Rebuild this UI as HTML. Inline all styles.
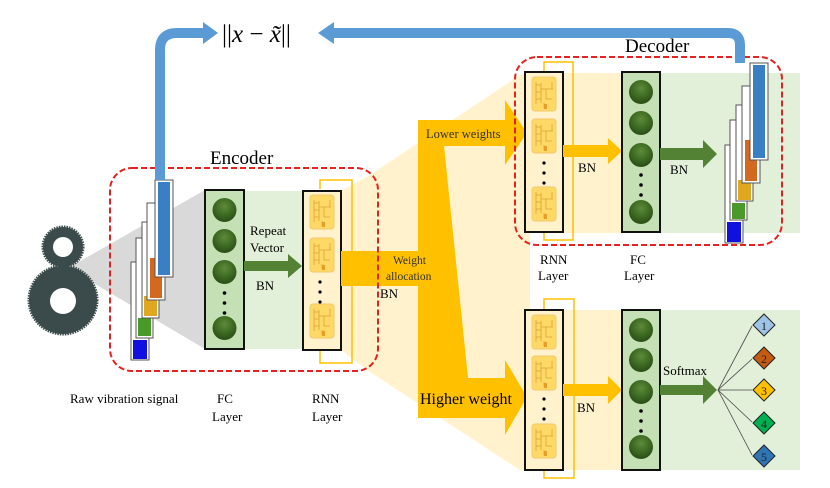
<!DOCTYPE html>
<html><head><meta charset="utf-8"><style>
html,body{margin:0;padding:0;background:#fff;}
svg{display:block;font-family:"Liberation Serif",serif;}
</style></head><body>
<svg width="830" height="488" viewBox="0 0 830 488" xmlns="http://www.w3.org/2000/svg">
<defs>
<g id="cell">
<rect x="0" y="0" width="24" height="34" rx="3" fill="#ffd966" stroke="#f4c76a" stroke-width="1"/>
<path d="M4 5v22M4 8h5M4 15h5M4 22h5M9 6v20M9 12h12M14 12v10h6M20 5v7M12 26v5" stroke="#d9a23a" stroke-width="0.8" fill="none"/>
<rect x="12" y="27" width="3" height="5" fill="#e69d2b"/>
</g>
<radialGradient id="ball" cx="50%" cy="35%" r="60%">
<stop offset="0" stop-color="#5f8a3a"/><stop offset="0.6" stop-color="#3d6b23"/><stop offset="1" stop-color="#2d5218"/>
</radialGradient>
</defs>

<polygon points="341,191 370,175 520,75 530,75 530,470 520,470 370,372 341,350" fill="#fff2cc"/>
<rect x="530" y="73" width="125" height="160" fill="#fff2cc"/>
<rect x="655" y="73" width="145" height="160" fill="#e2f0d9"/>
<rect x="525" y="310" width="130" height="160" fill="#fff2cc"/>
<rect x="655" y="310" width="145" height="160" fill="#e2f0d9"/>

<polygon points="68,268 205,190 205,349" fill="#d9d9d9"/>
<rect x="244" y="191" width="59" height="158" fill="#e2f0d9"/>

<circle cx="63" cy="247" r="20" fill="#3b4a4a" stroke="#3b4a4a" stroke-width="3" stroke-dasharray="1.5 1"/>
<circle cx="63" cy="247" r="10" fill="#fff"/>
<circle cx="63" cy="300" r="34" fill="#3b4a4a" stroke="#3b4a4a" stroke-width="3" stroke-dasharray="1.5 1"/>
<circle cx="63" cy="301" r="13" fill="#fff"/>

<g>
<rect x="131" y="262" width="18" height="98" fill="#fff" stroke="#555"/><rect x="133" y="340" width="14" height="19" fill="#1010e0"/>
<rect x="136" y="238" width="17" height="100" fill="#fff" stroke="#555"/><rect x="138" y="318" width="13" height="18" fill="#4a9a2a"/>
<rect x="142" y="222" width="17" height="96" fill="#fff" stroke="#555"/><rect x="144" y="296" width="13" height="20" fill="#e0a820"/>
<rect x="147" y="203" width="18" height="97" fill="#fff" stroke="#555"/><rect x="150" y="258" width="12" height="40" fill="#d2691e"/>
<rect x="155" y="180" width="18" height="97" fill="#fff" stroke="#555"/><rect x="158" y="182" width="12" height="93" fill="#3a7fc4"/>
</g>

<rect x="205" y="190" width="39" height="159" fill="#c5e0b4" stroke="#111" stroke-width="2"/>
<circle cx="224.5" cy="210" r="12" fill="url(#ball)"/>
<circle cx="224.5" cy="241" r="12" fill="url(#ball)"/>
<circle cx="224.5" cy="272" r="12" fill="url(#ball)"/>
<circle cx="224.5" cy="293" r="1.8" fill="#000"/><circle cx="224.5" cy="303" r="1.8" fill="#000"/><circle cx="224.5" cy="313" r="1.8" fill="#000"/>
<circle cx="224.5" cy="328" r="12" fill="url(#ball)"/>
<polygon points="244,261 288,261 288,254 302,266 288,278 288,271 244,271" fill="#548235"/>
<text x="250" y="235" font-size="13">Repeat</text>
<text x="250" y="252" font-size="13">Vector</text>
<text x="256" y="290" font-size="13">BN</text>

<polyline points="320,351 320,363 352,363 352,180 320,180 320,189" fill="none" stroke="#ffc000" stroke-width="1.5"/>
<rect x="303" y="191" width="38" height="159" fill="#fff2cc" stroke="#111" stroke-width="2"/>
<use href="#cell" x="310" y="195"/><use href="#cell" x="310" y="238"/><use href="#cell" x="310" y="304"/>
<circle cx="320" cy="282" r="1.6" fill="#000"/><circle cx="320" cy="292" r="1.6" fill="#000"/><circle cx="320" cy="302" r="1.6" fill="#000"/>

<rect x="341" y="251" width="80" height="35" fill="#ffc000"/>
<polygon points="418,120 505,120 505,100 527,133 505,165 505,146 444,146 468,378 505,378 505,360 527,397 505,435 505,418 418,418" fill="#ffc000"/>
<text x="393" y="264" font-size="11.5" fill="#333">Weight</text>
<text x="386" y="280" font-size="11.5" fill="#333">allocation</text>
<text x="380" y="298" font-size="13">BN</text>
<text x="426" y="138" font-size="12.5" fill="#333">Lower weights</text>
<text x="420" y="404" font-size="16">Higher weight</text>

<rect x="110" y="168" width="268" height="203" rx="22" fill="none" stroke="#e82020" stroke-width="2" stroke-dasharray="6 3"/>
<text x="210" y="164" font-size="19">Encoder</text>

<polyline points="544,233 544,240 573,240 573,62 544,62 544,71" fill="none" stroke="#ffc000" stroke-width="1.5"/>
<rect x="525" y="72" width="38" height="160" fill="#fff2cc" stroke="#111" stroke-width="2"/>
<use href="#cell" x="532" y="77"/><use href="#cell" x="532" y="119"/><use href="#cell" x="532" y="187"/>
<circle cx="544" cy="163" r="1.6" fill="#000"/><circle cx="544" cy="173" r="1.6" fill="#000"/><circle cx="544" cy="183" r="1.6" fill="#000"/>
<polygon points="563,145 608,145 608,138 622,151 608,164 608,157 563,157" fill="#ffc000"/>
<text x="578" y="172" font-size="13">BN</text>
<rect x="622" y="72" width="38" height="160" fill="#c5e0b4" stroke="#111" stroke-width="2"/>
<circle cx="641" cy="92" r="12" fill="url(#ball)"/>
<circle cx="641" cy="123" r="12" fill="url(#ball)"/>
<circle cx="641" cy="155" r="12" fill="url(#ball)"/>
<circle cx="641" cy="175" r="1.8" fill="#000"/><circle cx="641" cy="185" r="1.8" fill="#000"/><circle cx="641" cy="195" r="1.8" fill="#000"/>
<circle cx="641" cy="212" r="12" fill="url(#ball)"/>
<polygon points="660,148 703,148 703,140 717,154 703,168 703,160 660,160" fill="#548235"/>
<text x="670" y="174" font-size="13">BN</text>
<g>
<rect x="725" y="145" width="18" height="98" fill="#fff" stroke="#555"/><rect x="727" y="222" width="14" height="20" fill="#1010e0"/>
<rect x="730" y="120" width="17" height="100" fill="#fff" stroke="#555"/><rect x="732" y="203" width="13" height="16" fill="#4a9a2a"/>
<rect x="736" y="105" width="17" height="96" fill="#fff" stroke="#555"/><rect x="738" y="180" width="13" height="20" fill="#e0a820"/>
<rect x="742" y="86" width="18" height="97" fill="#fff" stroke="#555"/><rect x="745" y="140" width="12" height="41" fill="#d2691e"/>
<rect x="750" y="63" width="18" height="97" fill="#fff" stroke="#555"/><rect x="753" y="65" width="12" height="93" fill="#3a7fc4"/>
</g>
<rect x="515" y="57" width="267" height="188" rx="22" fill="none" stroke="#e82020" stroke-width="2" stroke-dasharray="6 3"/>
<text x="625" y="52" font-size="19">Decoder</text>
<text x="540" y="264" font-size="13">RNN</text><text x="538" y="280" font-size="13">Layer</text>
<text x="630" y="264" font-size="13">FC</text><text x="624" y="280" font-size="13">Layer</text>

<polyline points="544,471 544,478 574,478 574,299 544,299 544,309" fill="none" stroke="#ffc000" stroke-width="1.5"/>
<rect x="525" y="310" width="38" height="160" fill="#fff2cc" stroke="#111" stroke-width="2"/>
<use href="#cell" x="532" y="315"/><use href="#cell" x="532" y="356"/><use href="#cell" x="532" y="424"/>
<circle cx="544" cy="399" r="1.6" fill="#000"/><circle cx="544" cy="409" r="1.6" fill="#000"/><circle cx="544" cy="419" r="1.6" fill="#000"/>
<polygon points="563,384 608,384 608,376 622,390 608,404 608,396 563,396" fill="#ffc000"/>
<text x="577" y="412" font-size="13">BN</text>
<rect x="622" y="310" width="38" height="160" fill="#c5e0b4" stroke="#111" stroke-width="2"/>
<circle cx="641" cy="330" r="12" fill="url(#ball)"/>
<circle cx="641" cy="360" r="12" fill="url(#ball)"/>
<circle cx="641" cy="392" r="12" fill="url(#ball)"/>
<circle cx="641" cy="411" r="1.8" fill="#000"/><circle cx="641" cy="421" r="1.8" fill="#000"/><circle cx="641" cy="431" r="1.8" fill="#000"/>
<circle cx="641" cy="447" r="12" fill="url(#ball)"/>
<polygon points="660,385 703,385 703,376 717,390 703,404 703,395 660,395" fill="#548235"/>
<text x="663" y="375" font-size="13">Softmax</text>
<g stroke="#444" stroke-width="0.8">
<line x1="718" y1="390" x2="752" y2="326"/><line x1="718" y1="390" x2="752" y2="359"/><line x1="718" y1="390" x2="752" y2="390"/><line x1="718" y1="390" x2="752" y2="422"/><line x1="718" y1="390" x2="752" y2="455"/>
</g>
<g stroke="#222" stroke-width="1">
<polygon points="764,314 775,325 764,336 753,325" fill="#9dc3e6"/>
<polygon points="764,347 775,358 764,369 753,358" fill="#c55a11"/>
<polygon points="764,379 775,390 764,401 753,390" fill="#ffc000"/>
<polygon points="764,412 775,423 764,434 753,423" fill="#00b050"/>
<polygon points="764,445 775,456 764,467 753,456" fill="#2e75b6"/>
</g>
<g font-size="12" text-anchor="middle" fill="#222">
<text x="764" y="330">1</text><text x="764" y="363">2</text><text x="764" y="395">3</text><text x="764" y="428">4</text><text x="764" y="461">5</text>
</g>

<text x="70" y="403" font-size="13">Raw vibration signal</text>
<text x="217" y="403" font-size="13">FC</text><text x="212" y="421" font-size="13">Layer</text>
<text x="312" y="403" font-size="13">RNN</text><text x="312" y="421" font-size="13">Layer</text>

<path d="M160,180 V50 Q160,33 177,33 H205" fill="none" stroke="#5b9bd5" stroke-width="10"/>
<polygon points="203,22 218,33 203,44" fill="#5b9bd5"/>
<path d="M740,63 V45 Q740,33 728,33 H332" fill="none" stroke="#5b9bd5" stroke-width="10"/>
<polygon points="334,22 318,33 334,44" fill="#5b9bd5"/>
<text x="222" y="42" font-size="25">||<tspan font-style="italic">x</tspan> − <tspan font-style="italic">x̃</tspan>||</text>
</svg>
</body></html>
